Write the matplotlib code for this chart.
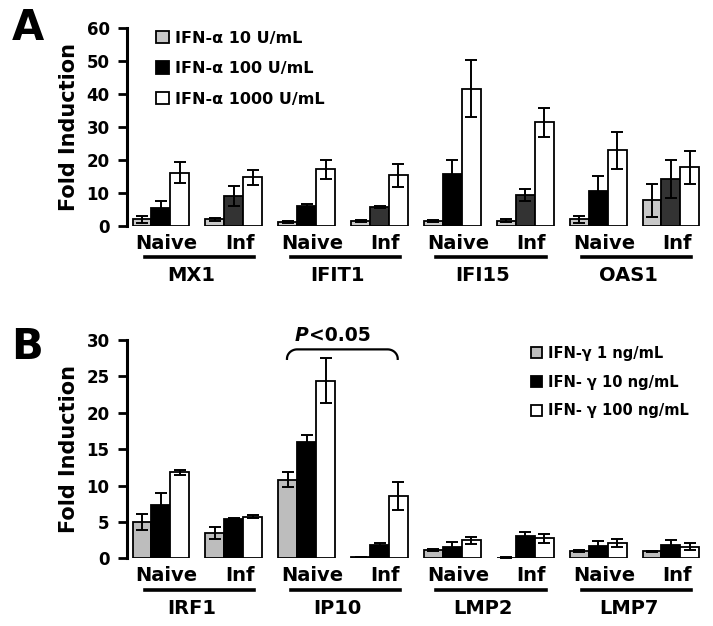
import numpy as np
import matplotlib
matplotlib.use("Agg")
import matplotlib.pyplot as plt
from matplotlib.transforms import ScaledTranslation

plt.rcParams["font.family"] = ["DejaVu Sans"]
plt.rcParams["font.weight"] = "bold"

# panel A data (IFN-alpha)
genes_a = ["MX1", "IFIT1", "IFI15", "OAS1"]
labels_a = ["IFN-\u03b1 10 U/mL", "IFN-\u03b1 100 U/mL", "IFN-\u03b1 1000 U/mL"]
# order: MX1 naive, MX1 inf, IFIT1 naive, IFIT1 inf, ...
low_a = [2.0, 2.0, 1.2, 1.6, 1.6, 1.6, 2.0, 7.8]
low_a_err = [1.0, 0.5, 0.2, 0.3, 0.3, 0.4, 1.0, 5.0]
mid_a = [5.6, 9.0, 6.0, 5.7, 15.8, 9.3, 10.5, 14.3]
mid_a_err = [1.9, 3.0, 0.8, 0.3, 4.2, 1.8, 4.7, 5.8]
high_a = [16.2, 14.8, 17.2, 15.4, 41.7, 31.4, 22.9, 17.8]
high_a_err = [3.1, 2.3, 2.8, 3.5, 8.7, 4.5, 5.7, 5.0]

# panel B data (IFN-gamma)
genes_b = ["IRF1", "IP10", "LMP2", "LMP7"]
labels_b = ["IFN-\u03b3 1 ng/mL", "IFN- \u03b3 10 ng/mL", "IFN- \u03b3 100 ng/mL"]
low_b = [5.0, 3.5, 10.8, 0.2, 1.15, 0.1, 1.0, 0.95]
low_b_err = [1.1, 0.8, 1.0, 0.05, 0.2, 0.05, 0.1, 0.1]
mid_b = [7.4, 5.4, 16.0, 1.9, 1.6, 3.05, 1.7, 1.9]
mid_b_err = [1.6, 0.2, 0.9, 0.2, 0.6, 0.6, 0.7, 0.6]
high_b = [11.8, 5.7, 24.4, 8.6, 2.5, 2.75, 2.1, 1.6]
high_b_err = [0.3, 0.2, 3.1, 1.9, 0.5, 0.6, 0.5, 0.5]

conditions = ["Naive", "Inf"]

fig = plt.figure(figsize=[7.13, 6.26], dpi=100)
ax_a = fig.add_axes([0.178, 0.639, 0.809, 0.316])
ax_b = fig.add_axes([0.178, 0.108, 0.809, 0.349])

pos = np.arange(8)
w = 0.26


def draw_panel(ax, vals, errs, colors, genes, ymax, step, legend_labels, leg_anchor, leg_size, leg_space, down):
    for k in range(3):
        ax.bar(pos + (k - 1) * w, vals[k], w, yerr=errs[k], color=colors[k],
               edgecolor="black", linewidth=1.3, capsize=4,
               error_kw={"elinewidth": 1.4, "capthick": 1.4}, label=legend_labels[k])
    ax.set_xlim(-0.467, 7.45)
    ax.set_ylim(0, ymax)
    ax.set_yticks(np.arange(0, ymax + 1, step))
    ax.tick_params(axis="y", labelsize=12, width=2, length=6.5, pad=6)
    ax.tick_params(axis="x", bottom=False, labelbottom=False)
    for s in ["top", "right", "bottom"]:
        ax.spines[s].set_visible(False)
    ax.spines["left"].set_linewidth(2.2)
    for t in ax.get_yticklabels():
        t.set_fontweight("bold")
    ax.set_ylabel("Fold Induction", fontsize=15, fontweight="bold", labelpad=5)
    # condition labels, underline, gene names
    for i in range(8):
        ax.annotate(conditions[i % 2], (pos[i] + 0.08, 0), xycoords=("data", "axes fraction"),
                    xytext=(0, -down[0]), textcoords="offset points",
                    ha="center", va="center", fontsize=14, fontweight="bold")
    for g in range(4):
        x0 = pos[2 * g] - 0.22
        x1 = pos[2 * g + 1] + 0.28
        ax.plot([x0, x1], [0, 0], color="black", lw=2.6, clip_on=False,
                transform=ax.get_xaxis_transform() + ScaledTranslation(0, -down[1] / 72, fig.dpi_scale_trans))
        ax.annotate(genes[g], ((pos[2 * g] + pos[2 * g + 1]) / 2 - 0.08, 0),
                    xycoords=("data", "axes fraction"), xytext=(0, -down[2]),
                    textcoords="offset points", ha="center", va="center",
                    fontsize=14, fontweight="bold")
    leg = ax.legend(loc="upper left", bbox_to_anchor=leg_anchor, frameon=False,
                    fontsize=leg_size, handlelength=0.8, handleheight=0.8,
                    handletextpad=0.35, labelspacing=leg_space, borderaxespad=0)
    for t in leg.get_texts():
        t.set_fontweight("bold")
    return leg


# panel A: infected middle bars drawn in dark gray
draw_panel(ax_a, [low_a, mid_a, high_a], [low_a_err, mid_a_err, high_a_err],
           ["#c8c8c8", ["black", "#333333"] * 4, "white"], genes_a, 60, 10,
           labels_a, (0.04, 1.02), 11.5, 0.97, (12.5, 22.3, 35.5))
draw_panel(ax_b, [low_b, mid_b, high_b], [low_b_err, mid_b_err, high_b_err],
           ["#bdbdbd", "black", "white"], genes_b, 30, 5,
           labels_b, (0.69, 1.0), 10.5, 0.95, (12.5, 23, 36))

# bracket and significance label on IP10
br_x0, br_x1 = 1.73, 3.25
br_top, br_drop = 28.7, 1.3
rx = 0.14
th = np.linspace(0, np.pi / 2, 20)
left_x = br_x0 + rx - rx * np.cos(th)
left_y = br_top - br_drop + br_drop * np.sin(th)
right_x = br_x1 - rx + rx * np.cos(th[::-1])
right_y = br_top - br_drop + br_drop * np.sin(th[::-1])
ax_b.plot(np.concatenate([left_x, right_x]), np.concatenate([left_y, right_y]),
          color="black", lw=1.6, clip_on=False)
ax_b.text(2.03, 29.8, "P", ha="right", va="baseline", fontsize=13.5,
          fontweight="bold", fontstyle="italic", clip_on=False)
ax_b.text(2.03, 29.8, "<0.05", ha="left", va="baseline", fontsize=13.5,
          fontweight="bold", clip_on=False)

fig.text(0.016, 0.955, "A", fontsize=30, fontweight="bold", va="center")
fig.text(0.016, 0.445, "B", fontsize=30, fontweight="bold", va="center")

plt.savefig("out.png", dpi=100)
plt.close()
